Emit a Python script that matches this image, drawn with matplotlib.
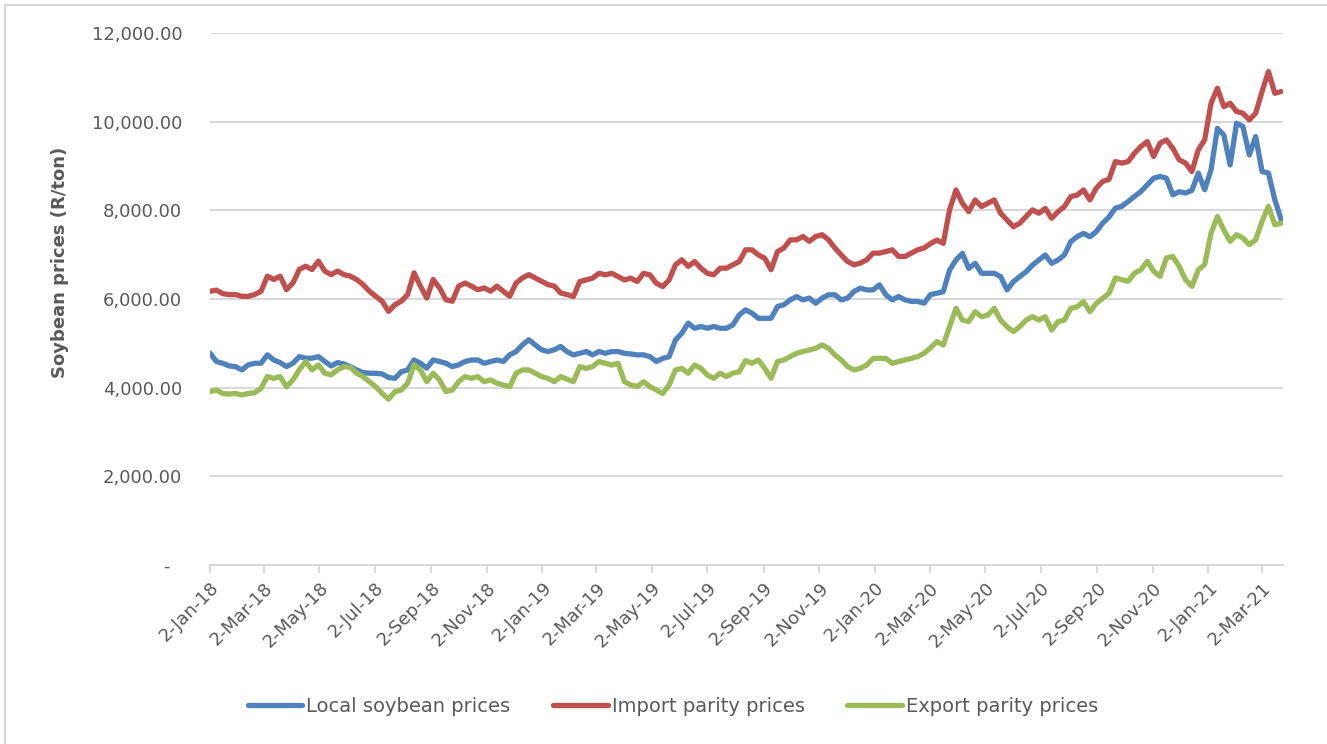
import numpy as np
import pandas as pd
import matplotlib
matplotlib.use("Agg")
import matplotlib.pyplot as plt
from matplotlib.ticker import FuncFormatter
from matplotlib.lines import Line2D

# Weekly observations, starting 2 Jan 2018 (R/ton)
start_date = "2018-01-02"
n_weeks = 169

local_prices = [
    4780, 4590, 4550, 4490, 4475, 4400, 4515, 4550, 4550, 4740,
    4625, 4565, 4475, 4550, 4700, 4665, 4665, 4700, 4590, 4490,
    4565, 4535, 4475, 4400, 4340, 4325, 4325, 4310, 4230, 4210,
    4360, 4400, 4625, 4550, 4440, 4625, 4590, 4550, 4475, 4515,
    4590, 4625, 4625, 4550, 4590, 4625, 4590, 4740, 4815, 4965,
    5080, 4965, 4855, 4815, 4855, 4930, 4810, 4740, 4775, 4815,
    4740, 4815, 4775, 4815, 4815, 4775, 4760, 4740, 4740, 4700,
    4590, 4660, 4700, 5075, 5230, 5455, 5340, 5380, 5340, 5380,
    5340, 5340, 5415, 5640, 5755, 5680, 5565, 5565, 5565, 5830,
    5870, 5980, 6055, 5980, 6020, 5905, 6020, 6095, 6095, 5980,
    6020, 6170, 6245, 6205, 6205, 6320, 6095, 5980, 6055, 5980,
    5945, 5945, 5905, 6100, 6130, 6165, 6655, 6880, 7030, 6690,
    6805, 6580, 6580, 6580, 6505, 6205, 6390, 6505, 6615, 6765,
    6880, 6995, 6805, 6880, 6995, 7295, 7405, 7480, 7405, 7520,
    7710, 7850, 8050, 8090, 8200, 8315, 8425, 8575, 8725, 8765,
    8725, 8350, 8420, 8390, 8450, 8840, 8465, 8915, 9850, 9700,
    9025, 9965, 9890, 9250, 9665, 8875, 8840, 8240, 7790,
]

import_parity = [
    6175, 6200, 6120, 6100, 6100, 6060, 6060, 6100, 6175, 6515,
    6440, 6515, 6210, 6360, 6665, 6740, 6665, 6855, 6630, 6550,
    6630, 6550, 6515, 6440, 6325, 6175, 6060, 5950, 5720, 5870,
    5950, 6100, 6590, 6290, 6020, 6440, 6250, 5985, 5950, 6290,
    6360, 6290, 6210, 6250, 6175, 6290, 6175, 6060, 6360, 6475,
    6550, 6475, 6400, 6325, 6290, 6135, 6100, 6055, 6395, 6430,
    6470, 6580, 6545, 6580, 6505, 6430, 6470, 6395, 6580, 6545,
    6355, 6280, 6430, 6770, 6885, 6735, 6845, 6695, 6580, 6545,
    6695, 6695, 6770, 6845, 7110, 7110, 6995, 6920, 6660, 7070,
    7150, 7335, 7335, 7410, 7300, 7410, 7450, 7335, 7150, 6995,
    6845, 6770, 6810, 6885, 7035, 7035, 7070, 7110, 6960, 6960,
    7035, 7110, 7150, 7250, 7330, 7255, 8015, 8460, 8160, 7970,
    8235, 8085, 8160, 8235, 7935, 7780, 7630, 7710, 7860, 8010,
    7935, 8045, 7820, 7970, 8085, 8310, 8345, 8460, 8235, 8500,
    8650, 8700, 9100, 9065, 9100, 9290, 9440, 9550, 9215, 9515,
    9590, 9400, 9140, 9065, 8875, 9365, 9590, 10415, 10755, 10340,
    10415, 10230, 10190, 10040, 10190, 10680, 11130, 10640, 10680,
]

export_parity = [
    3910, 3947, 3870, 3855, 3870, 3835, 3870, 3885, 3985, 4250,
    4210, 4250, 4020, 4175, 4400, 4590, 4400, 4515, 4325, 4290,
    4400, 4475, 4460, 4325, 4250, 4135, 4020, 3870, 3740, 3910,
    3947, 4100, 4515, 4400, 4135, 4325, 4175, 3910, 3947, 4135,
    4250, 4210, 4250, 4135, 4175, 4100, 4060, 4020, 4325, 4400,
    4400, 4325, 4250, 4210, 4135, 4250, 4190, 4135, 4475, 4435,
    4475, 4590, 4550, 4510, 4550, 4135, 4060, 4025, 4135, 4025,
    3945, 3870, 4060, 4400, 4435, 4325, 4510, 4435, 4285, 4210,
    4325, 4250, 4325, 4360, 4610, 4550, 4625, 4435, 4210, 4590,
    4625, 4700, 4775, 4815, 4850, 4890, 4965, 4890, 4740, 4625,
    4475, 4400, 4435, 4510, 4660, 4660, 4660, 4550, 4590, 4625,
    4660, 4700, 4775, 4900, 5040, 4960, 5375, 5790, 5525, 5490,
    5715, 5600, 5640, 5790, 5525, 5375, 5265, 5375, 5525, 5600,
    5525, 5600, 5300, 5490, 5525, 5790, 5825, 5940, 5715, 5900,
    6015, 6130, 6475, 6435, 6400, 6585, 6660, 6850, 6625, 6510,
    6925, 6960, 6735, 6435, 6285, 6660, 6775, 7485, 7860, 7560,
    7300, 7450, 7375, 7225, 7335, 7750, 8090, 7675, 7710,
]

series_names = ["Local soybean prices", "Import parity prices", "Export parity prices"]
series_colors = ["#4F81BD", "#C0504D", "#9BBB59"]

tick_dates = pd.date_range("2018-01-01", "2021-03-01", freq="2MS") + pd.Timedelta(days=1)
tick_labels = [f"{d.day}-{d.strftime('%b-%y')}" for d in tick_dates]
y_ticks = [0, 2000, 4000, 6000, 8000, 10000, 12000]

dates = pd.date_range(start_date, periods=n_weeks, freq="7D")

text_color = "#595959"
grid_color = "#D9D9D9"

fig = plt.figure(figsize=(13.27, 7.44), dpi=100)
fig.patch.set_facecolor("white")

# thin frame along the top and left edges
fig.add_artist(Line2D([5 / 1327, 5 / 1327], [0, 1 - 5 / 744], transform=fig.transFigure,
                      color=grid_color, lw=1.5))
fig.add_artist(Line2D([5 / 1327, 1], [1 - 5 / 744, 1 - 5 / 744], transform=fig.transFigure,
                      color=grid_color, lw=1.5))

ax = fig.add_axes([210 / 1327, 1 - 565 / 744, (1283 - 210) / 1327, (565 - 33) / 744])

for vals, name, col in zip([local_prices, import_parity, export_parity], series_names, series_colors):
    ax.plot(dates, vals, color=col, lw=3.8, label=name, solid_joinstyle="round",
            solid_capstyle="round", zorder=3)

ax.set_ylim(0, 12000)
ax.set_xlim(pd.Timestamp("2018-01-02"), pd.Timestamp("2021-03-25"))
ax.set_yticks(y_ticks)
ax.yaxis.set_major_formatter(FuncFormatter(lambda v, p: "-  " if v == 0 else f"{v:,.2f}"))
ax.grid(axis="y", color=grid_color, lw=1.5, zorder=0)
ax.tick_params(axis="y", length=0, pad=20, labelsize=13, labelcolor=text_color)

ax.set_xticks(tick_dates)
ax.set_xticklabels(tick_labels, rotation=45, ha="right", rotation_mode="anchor",
                   fontsize=13, color=text_color)
ax.tick_params(axis="x", length=6, width=1.5, color=grid_color, pad=4)

for side in ["top", "right", "left"]:
    ax.spines[side].set_visible(False)
ax.spines["bottom"].set_color(grid_color)
ax.spines["bottom"].set_linewidth(1.5)

fig.text(60 / 1327, 1 - 262 / 744, "Soybean prices (R/ton)", rotation=90, ha="center",
         va="center", fontsize=13, fontweight="bold", color=text_color)

handles = [Line2D([0], [0], color=c, lw=3.8, solid_capstyle="round") for c in series_colors]
fig.legend(handles, series_names, loc="center", bbox_to_anchor=(673 / 1327, 1 - 706 / 744),
           ncol=3, frameon=False, fontsize=14, labelcolor=text_color, handlelength=2.8,
           handletextpad=0.2, columnspacing=2.2)

fig.savefig("out.png", dpi=100, facecolor="white")
